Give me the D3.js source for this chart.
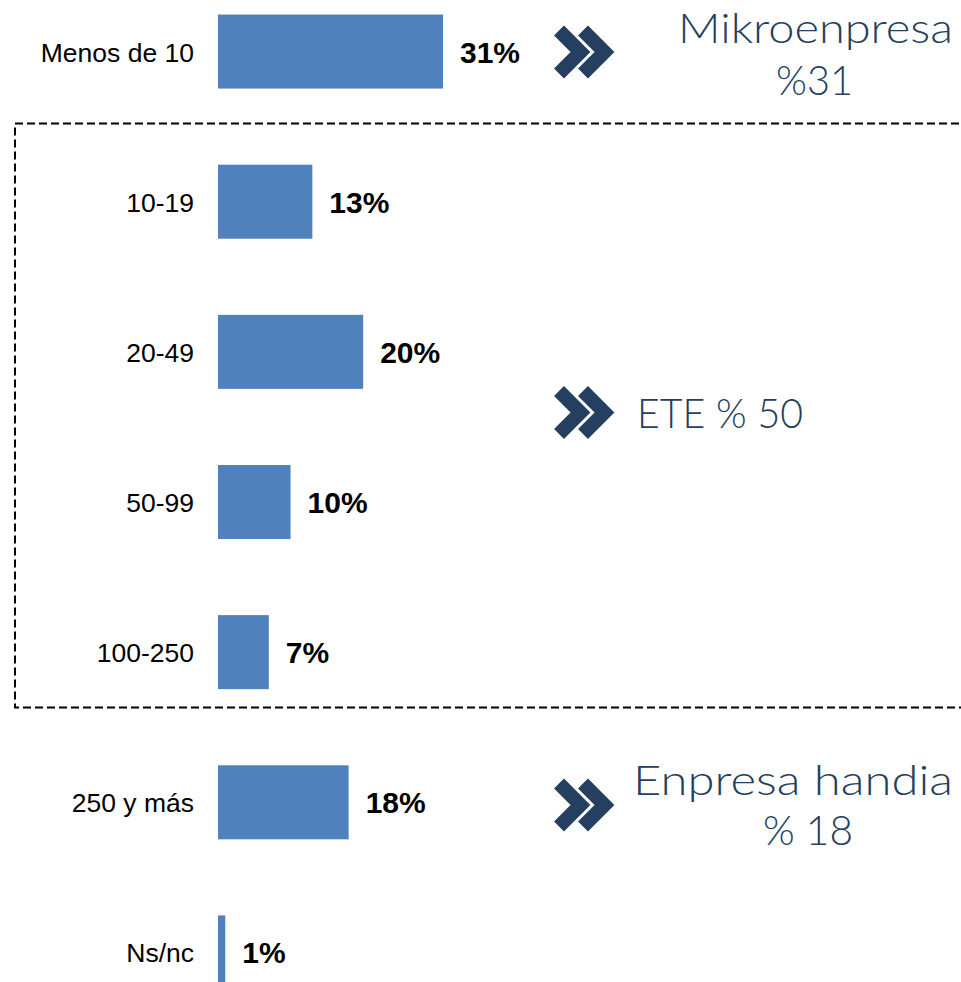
<!DOCTYPE html>
<html><head><meta charset="utf-8">
<script src="https://cdn.jsdelivr.net/npm/d3@7"></script>
<style>html,body{margin:0;padding:0;background:#fff;overflow:hidden}</style>
</head><body>
<svg id="c" width="961" height="982"></svg>
<script>
const categories = ["Menos de 10","10-19","20-49","50-99","100-250","250 y más","Ns/nc"];
const values = [31,13,20,10,7,18,1];
const groupLabels = [["Mikroenpresa","%31"],["ETE % 50"],["Enpresa handia","% 18"]];

const svg = d3.select("#c");
const x = d3.scaleLinear().domain([0,31]).range([218,443]);
const y = d3.scaleBand().domain(categories).range([-23,1027]).paddingInner(0.507).paddingOuter(0.25);

// dashed box
svg.append("rect").attr("x",15).attr("y",123.5).attr("width",1000).attr("height",584)
  .attr("fill","none").attr("stroke","#000").attr("stroke-width",2).attr("stroke-dasharray","8,4");

svg.selectAll("rect.bar").data(values).join("rect").attr("class","bar")
  .attr("x",x(0)).attr("y",(d,i)=>y(categories[i]))
  .attr("width",d=>x(d)-x(0)).attr("height",y.bandwidth()).attr("fill","#4F81BD");

svg.selectAll("text.cat").data(categories).join("text").attr("class","cat")
  .attr("x",194).attr("y",d=>y(d)+y.bandwidth()/2+10)
  .attr("text-anchor","end").attr("font-family","Liberation Sans, Arial, sans-serif")
  .attr("font-size",26.5).attr("fill","#000").text(d=>d);

svg.selectAll("text.val").data(values).join("text").attr("class","val")
  .attr("x",d=>x(d)+17).attr("y",(d,i)=>y(categories[i])+y.bandwidth()/2+11)
  .attr("font-family","Liberation Sans, Arial, sans-serif").attr("font-weight","bold")
  .attr("font-size",30).attr("fill","#000").text(d=>d+"%");

// chevrons
const navy = "#243F60";
function chevron(cx, cy){
  const L=21.5;
  svg.append("polyline").attr("points",`${cx-L},${cy-L} ${cx},${cy} ${cx-L},${cy+L}`)
    .attr("fill","none").attr("stroke",navy).attr("stroke-width",14)
    .attr("stroke-linejoin","miter").attr("stroke-linecap","butt");
}
const chevCy = [52, 412.5, 805];
chevCy.forEach(cy=>{ chevron(580.5, cy); chevron(604.5, cy); });

const gf = "Lato, 'Open Sans', sans-serif";
function gtext(txt, xx, yy, anchor, len){
  const t = svg.append("text").attr("x",xx).attr("y",yy).attr("text-anchor",anchor)
    .attr("font-family",gf).attr("font-weight",300).attr("font-size",41).attr("fill",navy).text(txt);
  if(len) t.attr("textLength",len).attr("lengthAdjust","spacingAndGlyphs");
}
gtext(groupLabels[0][0], 815.5, 43, "middle", 275);
gtext(groupLabels[0][1], 814.5, 95, "middle", 77);
gtext(groupLabels[1][0], 637, 428, "start", 166);
gtext(groupLabels[2][0], 793, 795, "middle", 320);
gtext(groupLabels[2][1], 808, 845, "middle", 90);
</script>
</body></html>
